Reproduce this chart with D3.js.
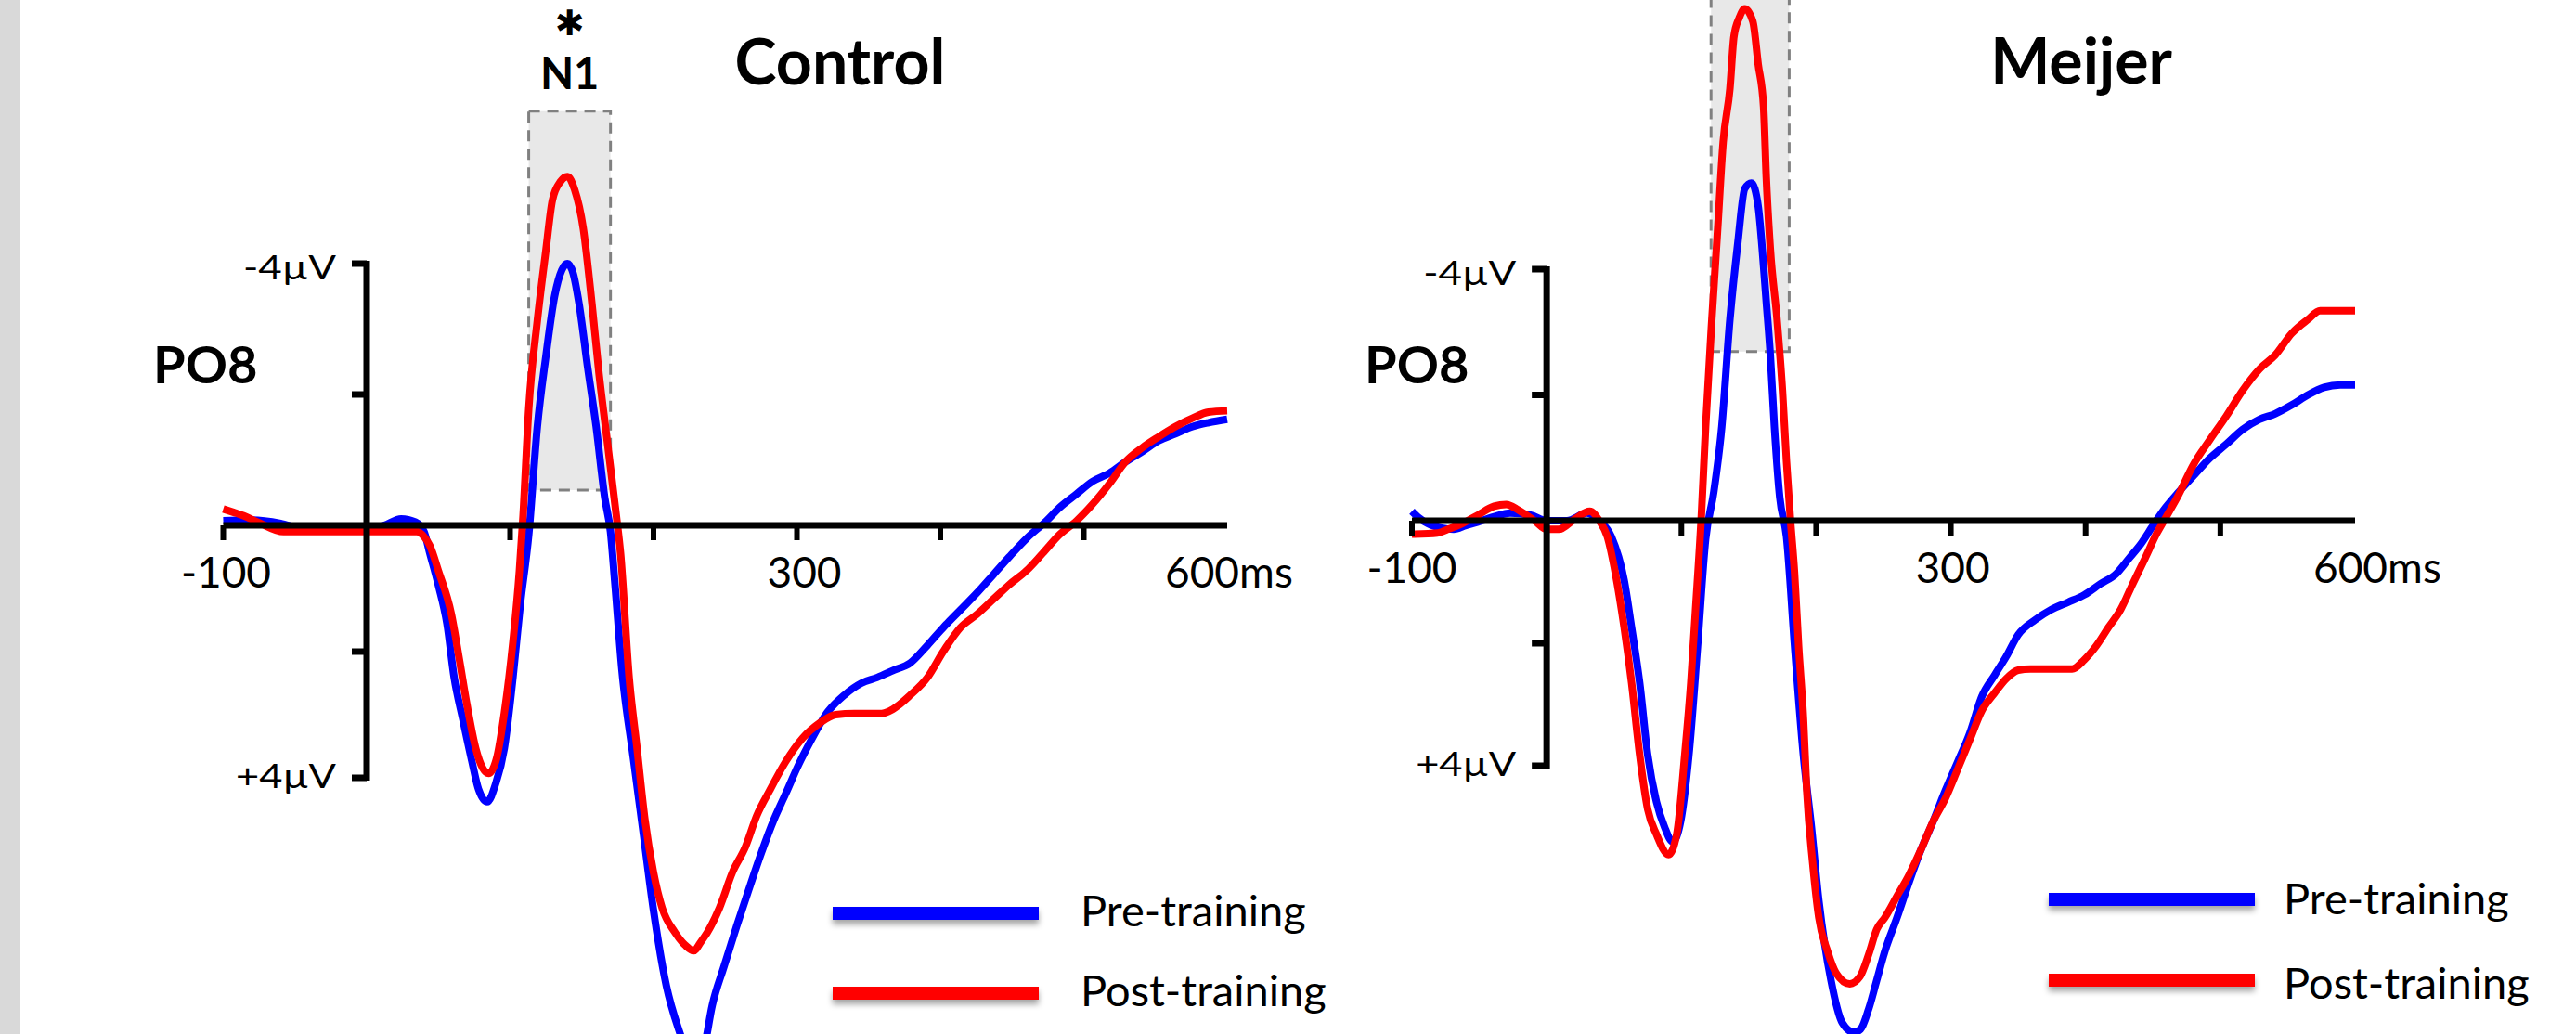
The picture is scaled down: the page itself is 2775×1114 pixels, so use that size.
<!DOCTYPE html>
<html>
<head>
<meta charset="utf-8">
<script src="https://cdn.jsdelivr.net/npm/d3@7"></script>
<style>
  body { margin: 0; background: #fff; }
  svg { display: block; }
  text { font-family: Lato, "Open Sans", sans-serif; fill: #000; }
</style>
</head>
<body>
<svg id="chart"></svg>
<script>
let width = 2775;
let height = 1114;

// ---- data (time in ms, amplitude in µV, negative plotted up) ----
const xTickValues = [-100, 100, 200, 300, 400, 500];
const xLabelValues = [-100, 300, 600];
const xLabelTexts = ["-100", "300", "600ms"];
const yTickValues = [-4, -2, 2, 4];
const yLabelValues = [-4, 4];
const yLabelTexts = ["-4µV", "+4µV"];
const seriesNames = ["Pre-training", "Post-training"];
const seriesColors = ["#0000ff", "#ff0000"];
const panelTitles = ["Control", "Meijer"];
const channelName = "PO8";
const n1Window = [[113, 170], [122, 180]];   // ms
const n1Range = [[-6.33, -0.54], [-9.5, -2.69]]; // µV

const controlPre = [[-100,-0.07],[-80,-0.08],[-60,-0.03],[-45,0.05],[-20,0.06],[0,0.05],[12,0],[24,-0.1],[34,-0.05],[40,0.1],
  [44,0.44],[50,0.95],[56,1.56],[61,2.41],[67,3.07],[73,3.7],[78,4.18],[84,4.38],[90,4.09],[96,3.53],[102,2.41],[107,1.28],
  [113,0.15],[119,-1.51],[125,-2.59],[131,-3.5],[136,-3.9],[140,-4.0],[144,-3.85],[148,-3.4],[154,-2.43],[160,-1.51],[166,-0.42],
  [170,0.1],[173,0.9],[178,2.3],[186,3.7],[193,4.9],[200,6.1],[209,7.3],[217,7.95],[225,8.4],[230,8.5],[235,8.3],[241,7.6],
  [249,7.0],[258,6.35],[266,5.8],[275,5.2],[284,4.66],[292,4.26],[301,3.8],[310,3.4],[321,2.97],[333,2.69],[345,2.5],[356,2.41],
  [367,2.3],[379,2.18],[391,1.9],[402,1.62],[414,1.34],[426,1.06],[437,0.78],[448,0.5],[460,0.21],[474,-0.07],[483,-0.27],
  [495,-0.48],[506,-0.67],[518,-0.8],[529,-0.97],[541,-1.13],[552,-1.29],[564,-1.4],[576,-1.51],[587,-1.57],[600,-1.62]];

const controlPost = [[-100,-0.25],[-93,-0.2],[-86,-0.15],[-75,-0.04],[-58,0.1],[-30,0.1],[0,0.1],[20,0.1],[35,0.1],[40,0.18],
  [44,0.32],[50,0.72],[59,1.4],[64.6,2.12],[70,2.85],[76,3.53],[81,3.85],[85,3.93],[90.5,3.7],[96,2.97],[102,1.84],[106.5,0.72],
  [109,-0.13],[113,-1.78],[119,-3.13],[125,-4.21],[129.5,-4.97],[135,-5.25],[140,-5.33],[145,-5.13],[151,-4.54],[157,-3.4],
  [162,-2.32],[168,-1.24],[174,-0.16],[177,0.44],[183,2.41],[188.5,3.53],[194,4.66],[200,5.5],[206,6.06],[215,6.45],[222,6.65],
  [228,6.74],[233,6.6],[237.5,6.45],[246,6.06],[255,5.5],[264,5.1],[272,4.6],[281,4.2],[292,3.75],[304,3.37],[316,3.13],
  [327,3.0],[340,2.98],[359,2.98],[367,2.91],[379,2.69],[391,2.41],[402,2.0],[414,1.62],[426,1.4],[437,1.17],[448,0.94],
  [460,0.72],[471.5,0.44],[483,0.15],[495,-0.07],[506,-0.32],[518,-0.64],[529,-0.97],[541,-1.19],[552,-1.35],[564,-1.51],
  [576,-1.64],[587,-1.73],[600,-1.75]];

const meijerPre = [[-100,-0.15],[-95,-0.05],[-88,0.05],[-78,0.12],[-69,0.14],[-60,0.08],[-51,0.02],[-39.5,-0.06],[-27,-0.12],
  [-12,-0.09],[0,0],[15,0],[30,-0.12],[39,0],[48,0.26],[57.5,0.97],[63,1.74],[69,2.64],[75,3.82],[81.5,4.59],[87.5,5.0],
  [93.5,5.24],[99.5,4.9],[105.6,3.82],[112,2.05],[118,0.3],[124,-0.45],[130,-1.5],[136,-3.2],[142,-4.44],[147,-5.28],
  [152,-5.37],[157,-5.0],[160,-4.32],[163,-3.48],[166,-2.63],[169,-1.5],[173,-0.37],[178,0.26],[184,2.05],[190.5,3.82],
  [196.5,5.0],[202,6.2],[211,7.5],[219.5,8.2],[228,8.35],[233,8.3],[239,7.97],[245,7.5],[251,7.03],[260,6.48],[269,5.9],
  [278,5.36],[287,4.9],[296,4.4],[305,3.94],[314,3.47],[323,2.87],[332.5,2.52],[341,2.22],[350,1.86],[362.5,1.62],
  [374.5,1.45],[387,1.33],[399,1.21],[411,1.03],[423,0.86],[432,0.62],[441,0.38],[450,0.08],[459,-0.2],[468,-0.43],
  [480,-0.71],[492,-0.99],[504.6,-1.22],[516.5,-1.45],[529,-1.61],[540.6,-1.7],[553,-1.84],[565,-2.0],[577,-2.12],
  [589,-2.16],[600,-2.16]];

const meijerPost = [[-100,0.22],[-81,0.2],[-72,0.13],[-63,0.05],[-51,-0.09],[-39,-0.23],[-30,-0.26],[-21,-0.17],[-9,0],
  [0,0.14],[9,0.14],[21,-0.03],[32,-0.15],[39,0],[45,0.26],[51,0.86],[57.5,1.74],[63,2.64],[69,3.82],[75,4.71],[81.5,5.12],
  [90.5,5.45],[96.5,5.12],[102.5,3.82],[107,2.64],[110.5,1.45],[114.7,-0.03],[118,-1.5],[122.6,-3.2],[126.8,-4.6],
  [131,-6.02],[136,-6.87],[139,-7.7],[143,-8.0],[147,-8.14],[153,-7.94],[157,-7.26],[161,-6.58],[163,-5.46],[166,-4.32],
  [171,-3.2],[175,-2.07],[178,-0.94],[181,0],[184,0.86],[187,2.05],[190.6,3.23],[193,4.4],[197.5,5.6],[202,6.48],
  [208.5,7.03],[214.7,7.38],[225,7.56],[232.6,7.44],[239,7.08],[245,6.67],[251,6.48],[260,6.13],[269,5.78],[278,5.36],
  [287,4.9],[296,4.53],[305,4.06],[314,3.58],[323,3.1],[332.5,2.81],[341,2.58],[350,2.44],[359,2.42],[390,2.42],[399,2.27],
  [408,2.04],[417,1.74],[426,1.45],[435,1.03],[444,0.62],[453,0.2],[459,-0.03],[468,-0.37],[480,-0.89],[492,-1.28],
  [504.6,-1.67],[516.5,-2.07],[529,-2.41],[540.6,-2.63],[553,-2.98],[565,-3.2],[574,-3.34],[600,-3.34]];

// ---- layout ----
let panels = [
  {title: panelTitles[0], series: [controlPre, controlPost], win: n1Window[0], rng: n1Range[0],
   xRange: [240.5, 1322], yRange: [284, 566, 838], titleX: 905, titleY: 91, chanX: 165,
   labelShift: [3, 8, -67], legendX: 897, legendY: [984, 1070], legendText: 1164, legendTextY: [998, 1084], star: true},
  {title: panelTitles[1], series: [meijerPre, meijerPost], win: n1Window[1], rng: n1Range[1],
   xRange: [1521, 2537], yRange: [290, 561, 825], titleX: 2242, titleY: 90, chanX: 1470,
   labelShift: [0, 2, -45], legendX: 2207, legendY: [969, 1056], legendText: 2460, legendTextY: [985, 1076], star: false}
];

let svg = d3.select("#chart")
    .attr("width", width)
    .attr("height", height);

let defs = svg.append("defs");
let shadow = defs.append("filter").attr("id", "shadow")
    .attr("x", "-10%").attr("y", "-100%").attr("width", "120%").attr("height", "400%");
shadow.append("feDropShadow")
    .attr("dx", 0).attr("dy", 5).attr("stdDeviation", 3)
    .attr("flood-color", "#000").attr("flood-opacity", 0.35);

svg.append("rect")
    .attr("x", 0).attr("y", 0)
    .attr("width", width).attr("height", height)
    .style("fill", "#fff");
svg.append("rect")
    .attr("x", 0).attr("y", 0)
    .attr("width", 22).attr("height", height)
    .style("fill", "#d9d9d9");

function drawPanel(p) {
    let x = d3.scaleLinear().domain([-100, 600]).range(p.xRange);
    let y = d3.scaleLinear().domain([-4, 0, 4]).range(p.yRange);
    let g = svg.append("g");

    // N1 window
    g.append("rect")
        .attr("x", x(p.win[0]))
        .attr("y", y(p.rng[0]))
        .attr("width", x(p.win[1]) - x(p.win[0]))
        .attr("height", y(p.rng[1]) - y(p.rng[0]))
        .style("fill", "#e8e8e8")
        .style("stroke", "#808080")
        .style("stroke-width", 3)
        .style("stroke-dasharray", "12,8");

    if (p.star) {
        let cx = x((p.win[0] + p.win[1]) / 2);
        // heavy asterisk glyph fills its em box, so it sits clear of N1
        g.append("text")
            .attr("x", cx).attr("y", 38)
            .style("text-anchor", "middle")
            .style("font-family", "'DejaVu Sans', sans-serif")
            .style("font-size", "38px")
            .text("✱");
        g.append("text")
            .attr("x", cx).attr("y", 96)
            .style("text-anchor", "middle")
            .style("font-weight", 700)
            .style("font-size", "47px")
            .text("N1");
    }

    // waveforms
    let line = d3.line()
        .x(d => x(d[0]))
        .y(d => y(d[1]))
        .curve(d3.curveMonotoneX);
    p.series.forEach(function(s, i) {
        g.append("path")
            .datum(s)
            .attr("d", line)
            .style("fill", "none")
            .style("stroke", seriesColors[i])
            .style("stroke-width", 8)
            .style("stroke-linejoin", "round");
    });

    // axes
    let x0 = x(0);
    g.append("line")
        .attr("x1", x(-100)).attr("x2", x(600))
        .attr("y1", y(0)).attr("y2", y(0))
        .style("stroke", "#000").style("stroke-width", 7);
    g.append("line")
        .attr("x1", x0).attr("x2", x0)
        .attr("y1", y(-4) - 3).attr("y2", y(4) + 3)
        .style("stroke", "#000").style("stroke-width", 7);
    g.selectAll("line.xtick").data(xTickValues)
        .enter().append("line")
        .attr("class", "xtick")
        .attr("x1", d => x(d)).attr("x2", d => x(d))
        .attr("y1", y(0)).attr("y2", y(0) + 16)
        .style("stroke", "#000").style("stroke-width", 6);
    g.selectAll("line.ytick").data(yTickValues)
        .enter().append("line")
        .attr("class", "ytick")
        .attr("x1", x0 - 16).attr("x2", x0)
        .attr("y1", d => y(d)).attr("y2", d => y(d))
        .style("stroke", "#000").style("stroke-width", 7);

    g.selectAll("text.xlabel").data(xLabelValues)
        .enter().append("text")
        .attr("class", "xlabel")
        .attr("x", (d, i) => x(d) + p.labelShift[i])
        .attr("y", y(0) + 67)
        .style("text-anchor", (d, i) => i == 2 ? "start" : "middle")
        .style("font-size", "46px")
        .text((d, i) => xLabelTexts[i]);

    g.selectAll("text.ylabel").data(yLabelValues)
        .enter().append("text")
        .attr("class", "ylabel")
        .attr("x", x0 - 33)
        .attr("y", (d, i) => y(d) + (i == 0 ? 17 : 11))
        .style("text-anchor", "end")
        .style("font-size", "36px")
        .attr("textLength", (d, i) => i == 0 ? 100 : 108)
        .attr("lengthAdjust", "spacingAndGlyphs")
        .text((d, i) => yLabelTexts[i]);

    g.append("text")
        .attr("x", p.chanX).attr("y", 413)
        .style("font-weight", 700)
        .style("font-size", "56px")
        .text(channelName);

    g.append("text")
        .attr("x", p.titleX).attr("y", p.titleY)
        .style("text-anchor", "middle")
        .style("font-weight", 700)
        .style("font-size", "68px")
        .text(p.title);

    // legend
    seriesNames.forEach(function(name, i) {
        g.append("rect")
            .attr("x", p.legendX).attr("y", p.legendY[i] - 7)
            .attr("width", 222).attr("height", 14)
            .style("fill", seriesColors[i])
            .attr("filter", "url(#shadow)");
        g.append("text")
            .attr("x", p.legendText).attr("y", p.legendTextY[i])
            .style("font-size", "47px")
            .text(name);
    });
}

panels.forEach(drawPanel);
</script>
</body>
</html>
